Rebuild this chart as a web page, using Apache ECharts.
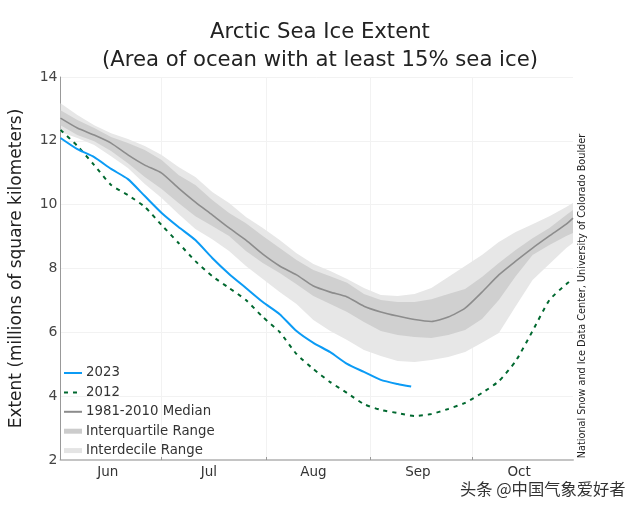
<!DOCTYPE html>
<html><head><meta charset="utf-8">
<style>html,body{margin:0;padding:0;background:#fff}#c{width:640px;height:512px}</style>
<script src="https://cdn.jsdelivr.net/npm/echarts@6/dist/echarts.min.js"></script>
</head><body><div id="c"></div>
<script>
const days = [0,5,10,15,20,25,30,35,40,45,50,55,60,65,70,75,80,85,90,95,100,105,110,115,120,125,130,135,140,145,150,152];
const days2023 = [0,5,10,15,20,25,30,35,40,45,50,55,60,65,70,75,80,85,90,95,100,104];
const monthTicks = [0,30,61,92,122];
const monthLabelDays = [14,44,75,106,136];
const monthNames = ['Jun','Jul','Aug','Sep','Oct'];
const values2023 = [12.09,11.74,11.49,11.12,10.80,10.27,9.74,9.30,8.89,8.33,7.83,7.39,6.95,6.57,6.04,5.67,5.38,5.01,4.76,4.51,4.38,4.30];
const values2012 = [12.34,11.84,11.24,10.62,10.30,9.93,9.36,8.80,8.23,7.76,7.39,7.01,6.48,6.01,5.32,4.85,4.44,4.10,3.75,3.57,3.47,3.38,3.44,3.60,3.79,4.10,4.47,5.10,6.04,7.01,7.51,7.67];
const median = [12.71,12.40,12.18,11.93,11.56,11.24,10.99,10.52,10.08,9.68,9.27,8.89,8.45,8.08,7.80,7.45,7.26,7.11,6.82,6.64,6.51,6.40,6.34,6.48,6.76,7.26,7.80,8.23,8.64,9.02,9.39,9.58];
const idrHigh = [13.18,12.81,12.49,12.24,12.06,11.84,11.56,11.18,10.87,10.40,10.05,9.61,9.27,8.89,8.48,8.14,7.92,7.67,7.39,7.17,7.14,7.20,7.39,7.73,8.08,8.42,8.83,9.14,9.39,9.64,9.93,10.05];
const iqrHigh = [12.96,12.65,12.40,12.12,11.93,11.71,11.40,10.93,10.62,10.15,9.74,9.42,9.02,8.64,8.27,7.95,7.76,7.55,7.20,7.01,6.95,6.95,7.04,7.20,7.36,7.73,8.17,8.58,8.95,9.27,9.68,9.83];
const iqrLow = [12.49,12.18,11.99,11.68,11.30,10.87,10.49,10.05,9.64,9.33,9.02,8.55,8.17,7.86,7.51,7.14,6.89,6.64,6.32,6.04,5.92,5.85,5.82,5.92,6.07,6.42,7.01,7.76,8.42,8.74,9.02,9.11];
const idrLow = [12.28,12.09,11.87,11.52,11.15,10.65,10.21,9.71,9.24,8.92,8.55,8.08,7.67,7.26,6.89,6.39,6.04,5.76,5.45,5.26,5.10,5.07,5.13,5.23,5.38,5.67,5.98,6.82,7.64,8.14,8.64,8.80];
const yTicks = {min:2,max:14,interval:2};

const zip = (xs,ys)=>ys.map((v,i)=>[xs[i],v]);
const LIGHT='#e7e7e7', DARK='#d0d0d0';
// A filled band between two value arrays, placed through the chart's own scales.
const band=(name,low,high,color,z)=>({name,type:'custom',coordinateSystem:'cartesian2d',z,silent:true,clip:true,
  encode:{x:0,y:[1,2]},
  data:days.map((d,i)=>[d,low[i],high[i]]),
  renderItem(params,api){
    if(params.dataIndex!==0) return null;
    const upper=days.map((d,i)=>api.coord([d,high[i]]));
    const lower=days.map((d,i)=>api.coord([d,low[i]])).reverse();
    return {type:'polygon',shape:{points:upper.concat(lower),smooth:0},style:{fill:color}};
  }});
const legendLine=(name,color)=>({name,type:'line',data:[],symbol:'none',lineStyle:{color,width:5},itemStyle:{color}});
const line=(name,xs,ys,color,width,type,z)=>({name,type:'line',data:zip(xs,ys),symbol:'none',z,smooth:0.2,
  lineStyle:{color,width,type},itemStyle:{color}});

const chart = echarts.init(document.getElementById('c'),null,{renderer:'canvas'});
chart.setOption({
  animation:false,
  backgroundColor:'#fff',
  textStyle:{fontFamily:'DejaVu Sans'},
  title:{text:'Arctic Sea Ice Extent\n(Area of ocean with at least 15% sea ice)',left:315,top:13,textAlign:'center',
    textStyle:{fontFamily:'DejaVu Sans',fontSize:21.2,fontWeight:'normal',color:'#222',lineHeight:28.5}},
  grid:{left:60.5,top:77,width:512.5,height:383,containLabel:false,outerBoundsMode:'none'},
  xAxis:{type:'value',min:0,max:152,
    axisLine:{show:true,onZero:false,lineStyle:{color:'#c4c4c4',width:2}},
    axisTick:{show:true,inside:true,length:3,customValues:monthTicks,lineStyle:{color:'#999',width:1}},
    axisLabel:{customValues:monthLabelDays,formatter:v=>monthNames[monthLabelDays.indexOf(v)]||'',color:'#333',fontSize:13.5,margin:5,hideOverlap:false},
    splitLine:{show:true,lineStyle:{color:'#f2f2f2',width:1}}},
  yAxis:{type:'value',min:yTicks.min,max:yTicks.max,interval:yTicks.interval,name:'Extent (millions of square kilometers)',
    nameLocation:'middle',nameGap:35,nameTextStyle:{fontSize:17,color:'#222'},
    axisLine:{show:true,lineStyle:{color:'#999',width:1}},axisTick:{show:false},
    axisLabel:{color:'#444',fontSize:14,margin:3},
    splitLine:{show:true,lineStyle:{color:'#f2f2f2',width:1}}},
  legend:{orient:'vertical',left:56.5,top:361,itemWidth:18,itemHeight:14,itemGap:5.4,itemStyle:{opacity:0},lineStyle:{width:2},
    textStyle:{fontFamily:'DejaVu Sans',fontSize:13.3,lineHeight:14,height:14,color:'#333',padding:[0,0,0,-1]},
    data:['2023','2012',{name:'1981-2010 Median'},
      {name:'Interquartile Range',lineStyle:{width:5}},
      {name:'Interdecile Range',lineStyle:{width:5}}]},
  series:[
    band('Interdecile band',idrLow,idrHigh,LIGHT,1),
    band('Interquartile band',iqrLow,iqrHigh,DARK,2),
    line('1981-2010 Median',days,median,'#8c8c8c',1.6,'solid',3),
    line('2012',days,values2012,'#00682f',2,[4,5],4),
    line('2023',days2023,values2023,'#0b9bf5',2,'solid',5),
    legendLine('Interquartile Range','#cccccc'),
    legendLine('Interdecile Range','#e4e4e4')
  ],
  graphic:[
    {type:'text',x:582,y:296,rotation:Math.PI/2,silent:true,style:{text:'National Snow and Ice Data Center, University of Colorado Boulder',
      fontFamily:'DejaVu Sans',fontSize:9.7,fill:'#222',align:'center',verticalAlign:'middle'}},
    {type:'text',x:460,y:481,silent:true,style:{text:'头条 @中国气象爱好者',fontFamily:'Noto Sans CJK SC',fontSize:16.3,fill:'#333'}}
  ]
});
</script></body></html>
